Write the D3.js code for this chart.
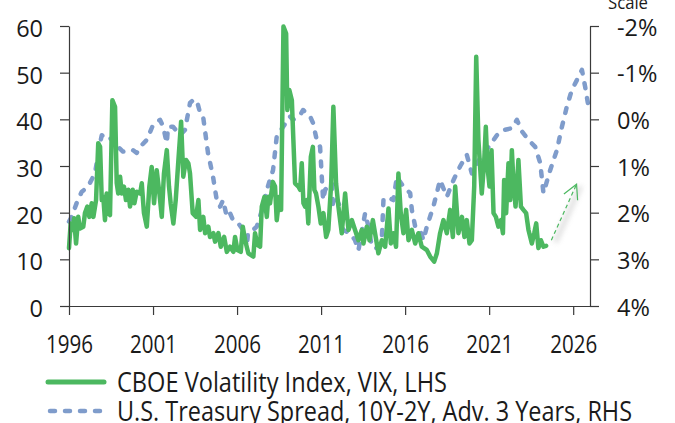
<!DOCTYPE html>
<html><head><meta charset="utf-8">
<script src="https://cdn.jsdelivr.net/npm/d3@7"></script>
<style>
html,body{margin:0;padding:0;background:#fff;}
svg{display:block;font-family:"Open Sans","Noto Sans",sans-serif;}
</style></head>
<body>
<svg id="chart" width="675" height="423"></svg>
<script>
// ---------- data ----------
const vixDates = [1996.00,1996.10,1996.22,1996.30,1996.42,1996.55,1996.65,1996.85,1996.95,1997.09,1997.21,1997.35,1997.45,1997.61,1997.74,1997.85,1997.95,1998.04,1998.14,1998.24,1998.34,1998.44,1998.58,1998.74,1998.84,1998.93,1999.04,1999.14,1999.27,1999.39,1999.53,1999.63,1999.79,1999.89,2000.03,2000.23,2000.33,2000.46,2000.63,2000.78,2000.92,2001.06,2001.22,2001.38,2001.52,2001.65,2001.82,2001.95,2002.05,2002.21,2002.35,2002.51,2002.67,2002.80,2002.96,2003.10,2003.20,2003.36,2003.56,2003.70,2003.80,2003.99,2004.10,2004.29,2004.39,2004.59,2004.69,2004.89,2005.03,2005.23,2005.39,2005.58,2005.78,2005.88,2006.02,2006.22,2006.34,2006.48,2006.67,2006.97,2007.07,2007.21,2007.37,2007.47,2007.63,2007.77,2007.86,2007.96,2008.13,2008.26,2008.36,2008.52,2008.62,2008.76,2008.92,2008.99,2009.11,2009.26,2009.35,2009.45,2009.65,2009.75,2009.85,2009.95,2010.05,2010.15,2010.24,2010.39,2010.51,2010.60,2010.70,2010.84,2010.98,2011.14,2011.30,2011.43,2011.60,2011.73,2011.89,2012.03,2012.23,2012.43,2012.53,2012.63,2012.83,2013.02,2013.22,2013.42,2013.52,2013.72,2013.88,2014.08,2014.21,2014.41,2014.61,2014.81,2015.01,2015.15,2015.30,2015.46,2015.60,2015.74,2015.90,2016.06,2016.20,2016.40,2016.60,2016.79,2016.99,2017.29,2017.49,2017.73,2017.89,2018.08,2018.28,2018.48,2018.68,2018.84,2018.98,2019.17,2019.38,2019.53,2019.67,2019.83,2019.97,2020.11,2020.23,2020.36,2020.46,2020.56,2020.70,2020.80,2020.90,2021.02,2021.14,2021.26,2021.40,2021.55,2021.70,2021.82,2021.89,2022.01,2022.15,2022.25,2022.35,2022.45,2022.57,2022.65,2022.74,2022.89,2023.04,2023.20,2023.34,2023.54,2023.68,2023.80,2023.93,2024.08,2024.23,2024.39];
const vixValues = [12.4,17.7,16.3,18.8,13.4,19.1,16.6,17.0,19.9,21.3,19.1,22.0,19.1,22.7,34.9,34.1,22.7,23.4,18.4,24.1,19.9,19.5,44.1,42.7,26.3,24.1,27.7,24.1,25.6,22.7,24.9,21.3,24.9,22.0,24.5,24.1,26.3,19.9,17.0,25.6,29.8,22.0,29.1,24.1,19.1,28.4,33.4,25.6,22.0,17.7,22.7,31.3,39.5,27.7,31.3,30.6,28.4,19.9,19.1,22.7,16.3,19.1,15.6,17.0,14.8,15.6,13.8,15.6,12.7,14.8,11.6,12.7,11.6,14.8,12.0,11.6,17.0,14.1,11.3,10.6,15.6,13.1,12.7,21.3,23.4,19.1,23.4,22.0,26.6,25.6,18.4,23.4,20.6,59.9,58.4,42.0,46.3,44.1,35.6,26.3,25.6,24.9,30.6,22.0,21.3,22.7,17.7,32.0,34.1,24.9,24.1,21.3,17.7,19.9,14.8,16.3,26.3,42.7,26.3,21.3,15.6,24.1,19.9,16.3,18.4,16.3,14.1,16.3,13.4,17.0,14.1,18.4,15.6,11.3,14.1,12.7,20.9,13.4,15.6,12.7,28.4,19.9,15.6,20.6,14.1,16.3,13.4,15.6,12.7,12.0,10.6,9.5,11.3,15.6,18.4,15.6,20.6,14.8,25.6,15.6,19.1,14.8,18.4,13.4,14.1,25.6,53.4,35.6,29.8,24.1,30.6,38.4,29.8,25.6,33.4,19.9,19.1,17.0,18.4,15.6,27.0,19.9,30.6,22.7,33.4,26.3,21.3,25.6,31.3,21.3,20.6,19.9,16.3,13.4,15.6,17.7,12.4,14.1,12.7,12.9];

const spreadDates = [1996.00,1996.16,1996.46,1996.76,1997.05,1997.25,1997.55,1997.85,1997.95,1998.24,1998.62,1998.92,1999.21,1999.81,2000.03,2000.23,2000.63,2001.00,2001.42,2001.60,2001.82,2001.89,2002.19,2002.61,2002.90,2003.20,2003.38,2003.60,2003.80,2003.98,2004.27,2004.57,2004.79,2004.99,2005.17,2005.39,2005.58,2005.76,2006.06,2006.36,2006.58,2006.65,2006.95,2007.17,2007.55,2007.77,2008.14,2008.36,2008.74,2009.15,2009.33,2009.75,2009.93,2010.35,2010.52,2010.74,2010.94,2011.04,2011.12,2011.24,2011.42,2011.64,2011.71,2011.93,2012.13,2012.31,2012.73,2013.02,2013.22,2013.62,2013.82,2014.02,2014.32,2014.61,2014.71,2014.91,2015.30,2015.51,2015.70,2015.90,2016.30,2016.40,2016.60,2016.89,2017.09,2017.29,2017.68,2018.08,2018.48,2018.88,2019.27,2019.67,2019.97,2020.27,2020.66,2021.06,2021.46,2021.85,2022.35,2022.65,2022.95,2023.34,2023.74,2024.04,2024.23,2024.63,2025.03,2025.33,2025.62,2025.92,2026.22,2026.52,2026.71,2026.91,2026.95];
const spreadValues = [2.19,2.09,1.79,1.55,1.47,1.36,1.15,0.51,0.34,0.44,0.40,0.59,0.69,0.66,0.72,0.59,0.44,0.12,0.01,0.16,0.51,0.16,0.16,0.34,0.23,-0.35,-0.41,-0.41,-0.14,-0.06,0.72,1.23,1.73,1.87,1.73,2.09,2.01,2.16,2.22,2.37,2.73,2.44,2.37,2.30,1.87,1.51,1.09,0.37,0.16,-0.06,0.01,-0.09,-0.20,-0.06,0.08,0.44,0.59,1.23,1.73,1.51,1.44,1.36,1.87,1.73,1.87,2.37,2.44,2.59,2.81,2.01,2.30,2.73,2.76,2.59,1.73,1.66,1.73,1.23,1.34,1.44,1.58,1.94,2.30,2.37,2.59,2.30,1.87,1.30,1.66,1.30,1.01,0.76,1.16,0.94,0.73,0.55,0.34,0.23,0.19,0.01,0.26,0.44,0.59,0.94,1.58,1.09,0.66,0.16,-0.27,-0.63,-0.84,-1.06,-0.70,-0.27,-0.35];

const xTicks = [1996,2001,2006,2011,2016,2021,2026];
const leftTicks = [0,10,20,30,40,50,60];
const rightTicks = [-2,-1,0,1,2,3,4];
const seriesNames = ["CBOE Volatility Index, VIX, LHS","U.S. Treasury Spread, 10Y-2Y, Adv. 3 Years, RHS"];
const rightAxisTitle = "Scale";
const arrowFrom = [2024.7, 14.1];   // [year, LHS value]
const arrowTo = [2026.2, 26.1];

// ---------- chart ----------
const green = "#4cb860", blue = "#7f9ccb", axisCol = "#3a3a3a", textCol = "#1a1a1a";
const svg = d3.select("#chart");
svg.append("rect").attr("width",675).attr("height",423).attr("fill","#fff");

const x = d3.scaleLinear().domain([1996, 2027]).range([69, 590]);
const yL = d3.scaleLinear().domain([0, 60]).range([306, 26]);
const yR = d3.scaleLinear().domain([-2, 4]).range([26, 306]);

// defs for arrow shadow
const defs = svg.append("defs");
defs.append("filter").attr("id","blur").attr("x","-50%").attr("y","-50%").attr("width","200%").attr("height","200%")
  .append("feGaussianBlur").attr("stdDeviation",2.5);

// series
const spreadData = spreadDates.map((d,i)=>[d, spreadValues[i]]);
const vixData = vixDates.map((d,i)=>[d, vixValues[i]]);

svg.append("path").datum(spreadData)
  .attr("fill","none").attr("stroke",blue).attr("stroke-width",4.5)
  .attr("stroke-linecap","round").attr("stroke-linejoin","round")
  .attr("stroke-dasharray","5,10")
  .attr("d", d3.line().x(d=>x(d[0])).y(d=>yR(d[1])));

svg.append("path").datum(vixData)
  .attr("fill","none").attr("stroke",green).attr("stroke-width",4.5)
  .attr("stroke-linejoin","round").attr("stroke-linecap","round")
  .attr("d", d3.line().x(d=>x(d[0])).y(d=>yL(d[1])));

// arrow annotation
const ax0 = x(arrowFrom[0]), ay0 = yL(arrowFrom[1]);
const ax1 = x(arrowTo[0]), ay1 = yL(arrowTo[1]);
const ang = Math.atan2(ay0-ay1, ax0-ax1);
const headLen = 16, spread = 28*Math.PI/180;
const h1 = [ax1 + headLen*Math.cos(ang+spread), ay1 + headLen*Math.sin(ang+spread)];
const h2 = [ax1 + headLen*Math.cos(ang-spread), ay1 + headLen*Math.sin(ang-spread)];
svg.append("line").attr("x1",ax0+4).attr("y1",ay0+2).attr("x2",ax1+4).attr("y2",ay1+2)
  .attr("stroke","#bbb").attr("stroke-width",5).attr("opacity",0.45).attr("filter","url(#blur)");
svg.append("line").attr("x1",ax0).attr("y1",ay0).attr("x2",ax1).attr("y2",ay1)
  .attr("stroke",green).attr("stroke-width",1.2).attr("stroke-dasharray","4,3");
svg.append("polyline").attr("points",[h1,[ax1,ay1],h2].map(p=>p.join(",")).join(" "))
  .attr("fill","none").attr("stroke",green).attr("stroke-width",1.2);

// axes
function styleAxis(g){
  g.selectAll("path.domain").attr("stroke",axisCol).attr("stroke-width",1.2);
  g.selectAll(".tick line").attr("stroke",axisCol).attr("stroke-width",1.2);
  g.selectAll("text").attr("fill",textCol).attr("font-family",'"Open Sans","Noto Sans",sans-serif');
}
const gL = svg.append("g").attr("transform","translate(69,0)")
  .call(d3.axisLeft(yL).tickValues(leftTicks).tickSize(9).tickSizeOuter(0).tickPadding(17).tickFormat(d=>d));
styleAxis(gL);
gL.selectAll("text").attr("font-size",23.5).attr("dy",10.5);

const gR = svg.append("g").attr("transform","translate(590,0)")
  .call(d3.axisRight(yR).tickValues(rightTicks).tickSize(9).tickSizeOuter(0).tickPadding(18).tickFormat(d=>d+"%"));
styleAxis(gR);
gR.selectAll("text").attr("font-size",23.5).attr("dy",9);

const gB = svg.append("g").attr("transform","translate(0,306)")
  .call(d3.axisBottom(x).tickValues(xTicks).tickSize(9).tickSizeOuter(0).tickFormat(d=>String(d)));
styleAxis(gB);
gB.selectAll("text").attr("font-size",25).attr("y",47).attr("dy",0)
  .attr("textLength",47).attr("lengthAdjust","spacingAndGlyphs");
svg.selectAll(".domain").attr("fill","none");

// right axis title (clipped at top)
svg.append("text").attr("x",608).attr("y",9).attr("font-size",18)
  .attr("fill",textCol).attr("textLength",40).attr("lengthAdjust","spacingAndGlyphs").text(rightAxisTitle);

// legend
const leg = svg.append("g");
leg.append("line").attr("x1",48).attr("x2",104).attr("y1",382).attr("y2",382)
  .attr("stroke",green).attr("stroke-width",5).attr("stroke-linecap","round");
leg.append("line").attr("x1",50).attr("x2",104).attr("y1",411).attr("y2",411)
  .attr("stroke",blue).attr("stroke-width",4.5).attr("stroke-linecap","round").attr("stroke-dasharray","5,10");
leg.append("text").attr("x",117).attr("y",392).attr("font-size",28).attr("fill",textCol)
  .attr("textLength",330).attr("lengthAdjust","spacingAndGlyphs").text(seriesNames[0]);
leg.append("text").attr("x",117).attr("y",421).attr("font-size",28).attr("fill",textCol)
  .attr("textLength",515).attr("lengthAdjust","spacingAndGlyphs").text(seriesNames[1]);
</script>
</body></html>
